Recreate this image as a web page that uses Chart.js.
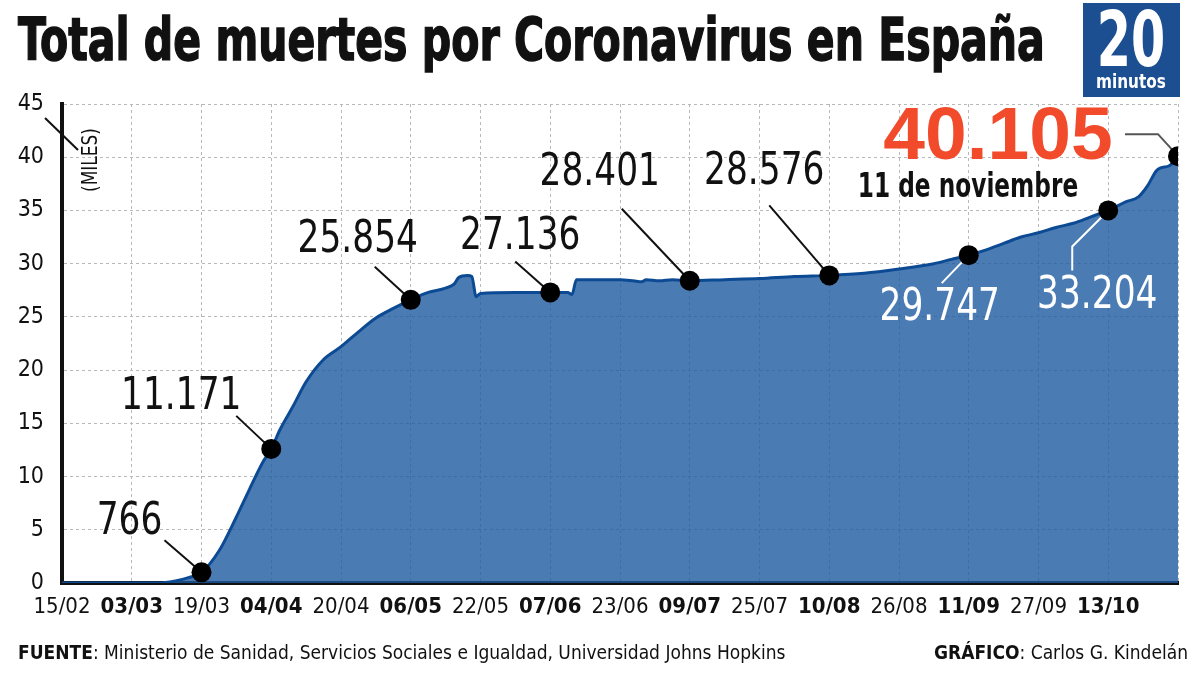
<!DOCTYPE html>
<html lang="es">
<head>
<meta charset="UTF-8">
<title>Total de muertes por Coronavirus en España</title>
<style>
  body { margin: 0; background: #fff; }
  .wrap {
    position: relative; width: 1200px; height: 675px; overflow: hidden; background: #fff;
    font-family: 'Liberation Sans Narrow', 'DejaVu Sans Condensed', sans-serif; color: #111;
  }
  #chart { position: absolute; left: 0; top: 0; }
  .title {
    position: absolute; left: 18px; top: 11px; font-size: 58px; line-height: 58px;
    font-weight: bold; white-space: nowrap; transform-origin: 0 0;
    -webkit-text-stroke: 1.4px #111;
  }
  .logo {
    position: absolute; left: 1083px; top: 3px; width: 97px; height: 94px; background: #1b4f91;
    color: #fff; font-weight: bold;
  }
  .logo .n { position: absolute; left: 48px; top: 6px; font-size: 76px; line-height: 62px; transform: translateX(-50%) scaleX(0.72); }
  .logo .m { position: absolute; left: 48px; top: 68px; font-size: 20px; line-height: 20px; transform: translateX(-50%) scaleX(0.85); }
  .foot { position: absolute; top: 643px; font-size: 19px; line-height: 19px; white-space: nowrap; }
  .foot b { font-weight: bold; }
</style>
</head>
<body>
<div class="wrap">
  <canvas id="chart" width="1200" height="675"></canvas>
  <div class="title">Total de muertes por Coronavirus en España</div>
  <div class="logo"><div class="n">20</div><div class="m">minutos</div></div>
  <div class="foot" style="left:18px"><b>FUENTE</b>: Ministerio de Sanidad, Servicios Sociales e Igualdad, Universidad Johns Hopkins</div>
  <div class="foot" style="right:12px"><b>GRÁFICO</b>: Carlos G. Kindelán</div>
</div>

<script src="https://cdn.jsdelivr.net/npm/chart.js"></script>
<script>
// x = days since 15/02 (one tick label every 16 days), y = deaths in thousands
const xLabels = ['15/02', '03/03', '19/03', '04/04', '20/04', '06/05', '22/05', '07/06',
                 '23/06', '09/07', '25/07', '10/08', '26/08', '11/09', '27/09', '13/10'];
const yTicks = [0, 5, 10, 15, 20, 25, 30, 35, 40, 45];

const dayIndex = [0, 22, 26, 29, 32, 36, 40, 43, 46, 48, 50, 53, 56, 60, 64, 68, 72, 76, 80, 84,
                  88, 90, 91, 93, 94, 95, 96, 104, 110, 112, 115, 116, 117, 118, 128, 131, 133, 134, 137, 140,
                  144, 152, 160, 168, 176, 184, 192, 200, 204, 208, 212, 216, 220, 224, 228, 232, 236, 240, 244, 247,
                  249, 251, 252, 254, 255, 256];
const deaths = [0, 0, 0.2, 0.5, 1.0, 3.0, 6.2, 8.8, 11.3, 12.6, 14.4, 16.6, 18.9, 21.0, 22.2, 23.6, 24.9, 25.8, 26.6, 27.3,
                27.7, 28.1, 28.7, 28.9, 28.8, 26.9, 27.2, 27.3, 27.3, 27.3, 27.3, 27.3, 27.1, 28.5, 28.5, 28.4, 28.3, 28.5, 28.4, 28.5,
                28.4, 28.5, 28.6, 28.8, 28.9, 29.1, 29.5, 30.0, 30.4, 30.8, 31.3, 31.9, 32.5, 32.9, 33.4, 33.8, 34.4, 35.0, 35.8, 36.3,
                37.3, 38.7, 39.0, 39.2, 39.6, 40.1];

// highlighted points
const markIdx = [32, 48, 80, 112, 144, 176, 208, 240, 256];
const markVal = [1.0, 12.6, 26.6, 27.3, 28.4, 28.9, 30.8, 35.0, 40.1];
const markLabels = ['766', '11.171', '25.854', '27.136', '28.401', '28.576', '29.747', '33.204', '40.105'];
const lastDateLabel = '11 de noviembre';

const FONT = "'Liberation Sans Narrow', 'DejaVu Sans Condensed', sans-serif";

// fit the title to the width it has in the original
const title = document.querySelector('.title');
title.style.transform = 'scaleX(' + (1027 / title.offsetWidth) + ')';

// label offset and leader line (relative to the point), one per highlighted point
const callouts = [
  { dx: -72, dy: -50, path: [[-37, -32]], color: '#111', line: '#111' },
  { dx: -90, dy: -52, path: [[-35, -33]], color: '#111', line: '#111' },
  { dx: -53, dy: -60, path: [[-36, -33]], color: '#111', line: '#111' },
  { dx: -30, dy: -55, path: [[-35, -31]], color: '#111', line: '#111' },
  { dx: -90, dy: -107, path: [[-68, -72]], color: '#111', line: '#111' },
  { dx: -65, dy: -103, path: [[-60, -70]], color: '#111', line: '#111' },
  { dx: -29, dy: 53, path: [[-27, 28]], color: '#fff', line: '#fff' },
  { dx: -11, dy: 86, path: [[-36, 60], [-36, 36]], color: '#fff', line: '#fff' },
  { dx: -180, dy: -18, path: [[-53, -22], [-20, -22]], color: '#f24b2c', line: '#555', big: true }
];

function squeezedText(ctx, text, x, y, font, color, sx) {
  ctx.save();
  ctx.translate(x, y);
  ctx.scale(sx, 1);
  ctx.font = font;
  ctx.fillStyle = color;
  ctx.textAlign = 'center';
  ctx.textBaseline = 'middle';
  ctx.fillText(text, 0, 0);
  ctx.restore();
}

const calloutPlugin = {
  id: 'callouts',
  afterDatasetDraw(chart, args) {
    if (args.index !== 1) return;
    const ctx = chart.ctx, xs = chart.scales.x, ys = chart.scales.y;
    ctx.save();
    markIdx.forEach((d, i) => {
      const px = xs.getPixelForValue(d), py = ys.getPixelForValue(markVal[i]);
      const c = callouts[i];
      ctx.strokeStyle = c.line;
      ctx.lineWidth = 2;
      ctx.beginPath();
      ctx.moveTo(px + c.path[0][0], py + c.path[0][1]);
      for (let k = 1; k < c.path.length; k++) ctx.lineTo(px + c.path[k][0], py + c.path[k][1]);
      ctx.lineTo(px, py);
      ctx.stroke();
      if (c.big) {
        squeezedText(ctx, markLabels[i], px + c.dx, py + c.dy, "bold 75px 'Liberation Sans', Arial, sans-serif", c.color, 1);
        squeezedText(ctx, lastDateLabel, px - 210, py + 32, 'bold 34px ' + FONT, '#111', 0.76);
      } else {
        squeezedText(ctx, markLabels[i], px + c.dx, py + c.dy, '45px ' + FONT, c.color, 0.85);
      }
    });
    ctx.restore();
  },
  afterDraw(chart) {
    const ctx = chart.ctx, a = chart.chartArea;
    ctx.save();
    ctx.strokeStyle = '#111';
    ctx.lineWidth = 2;
    ctx.beginPath();
    ctx.moveTo(a.left - 17, a.top + 14);
    ctx.lineTo(a.left + 16, a.top + 46);
    ctx.stroke();
    ctx.translate(a.left + 30, a.top + 56);
    ctx.rotate(-Math.PI / 2);
    squeezedText(ctx, '(MILES)', 0, 0, '21px ' + FONT, '#111', 0.9);
    ctx.restore();
  }
};

new Chart(document.getElementById('chart'), {
  type: 'line',
  data: {
    datasets: [
      {
        data: markIdx.map((d, i) => ({ x: d, y: markVal[i] })),
        showLine: false,
        pointRadius: 10,
        pointBackgroundColor: '#000',
        pointBorderWidth: 0
      },
      {
        data: dayIndex.map((d, i) => ({ x: d, y: deaths[i] })),
        borderColor: '#0c4a93',
        borderWidth: 3,
        backgroundColor: 'rgba(30, 90, 160, 0.8)',
        fill: 'origin',
        pointRadius: 0,
        cubicInterpolationMode: 'monotone'
      }
    ]
  },
  options: {
    responsive: false,
    animation: false,
    layout: { padding: { top: 104, right: 22, bottom: 32, left: 0 } },
    plugins: { legend: { display: false }, tooltip: { enabled: false } },
    scales: {
      x: {
        type: 'linear',
        min: 0,
        max: 256,
        afterFit: s => { s.height = 60; },
        afterBuildTicks: s => { s.ticks = xLabels.map((l, i) => ({ value: i * 16 })).concat([{ value: 256 }]); },
        ticks: {
          autoSkip: false,
          maxRotation: 0,
          padding: 11,
          color: '#111',
          callback: v => xLabels[v / 16] || '',
          font: c => ({ family: FONT, size: 22, weight: c.index % 2 ? 'bold' : 'normal' })
        },
        grid: { color: '#b8b8b8', lineWidth: 1, drawTicks: false },
        border: { display: true, color: '#111', width: 4, dash: [3, 3] }
      },
      y: {
        min: 0,
        max: 45,
        afterFit: s => { s.width = 62; },
        afterBuildTicks: s => { s.ticks = yTicks.map(v => ({ value: v })); },
        ticks: {
          padding: 18,
          color: '#111',
          font: { family: FONT, size: 23 }
        },
        grid: { color: '#b8b8b8', lineWidth: 1, drawTicks: false },
        border: { display: true, color: '#111', width: 4, dash: [3, 3] }
      }
    }
  },
  plugins: [calloutPlugin]
});
</script>
</body>
</html>
